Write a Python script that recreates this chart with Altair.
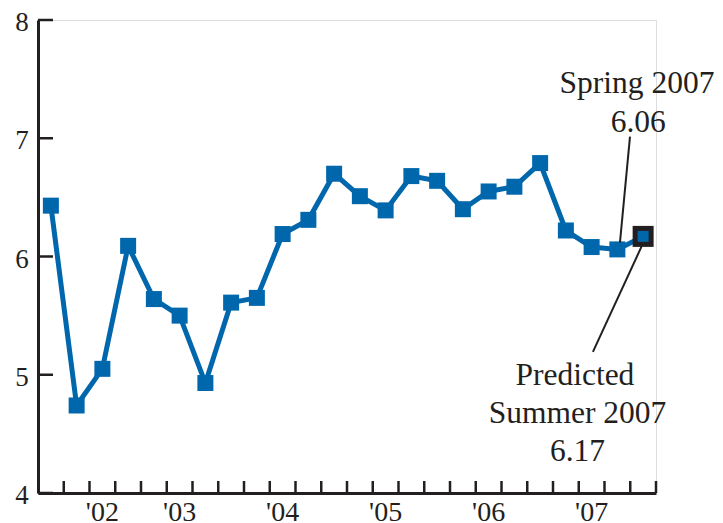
import altair as alt
import pandas as pd

# ---- data ----
quarter_idx = list(range(1, 25))
values = [6.43, 4.74, 5.05, 6.09, 5.64, 5.50, 4.93, 5.61, 5.65, 6.19, 6.31, 6.70,
          6.51, 6.39, 6.68, 6.64, 6.40, 6.55, 6.59, 6.79, 6.22, 6.08, 6.06, 6.17]
predicted_flag = [False] * 23 + [True]

year_labels = ["'02", "'03", "'04", "'05", "'06", "'07"]
year_pos = [3, 6, 10, 14, 18, 22]
y_tick_values = [4, 5, 6, 7, 8]
x_tick_values = [i + 0.5 for i in range(1, 25)]

ann_text = ["Spring 2007", "6.06", "Predicted", "Summer 2007", "6.17"]
ann_x = [23.76, 23.81, 21.35, 21.45, 21.45]
ann_y = [7.384, 7.057, 4.915, 4.594, 4.267]

leader_x = [23.49, 23.94]
leader_y = [7.013, 6.085]
leader_x2 = [23.10, 22.05]
leader_y2 = [6.117, 5.194]

BLUE = "#0067AC"
INK = "#231F20"
FONT = "Liberation Serif"

df = pd.DataFrame({"q": quarter_idx, "v": values, "pred": predicted_flag})
df_ann = pd.DataFrame({"t": ann_text, "x": ann_x, "y": ann_y})
df_lead = pd.DataFrame({"x": leader_x, "y": leader_y, "x2": leader_x2, "y2": leader_y2})
df_years = pd.DataFrame({"t": year_labels, "x": year_pos, "y": [3.765] * len(year_pos)})
df_yt = pd.DataFrame({"v": y_tick_values})
df_xt = pd.DataFrame({"q": x_tick_values})

xs = alt.Scale(domain=[0.5, 24.5], nice=False, zero=False)
ys = alt.Scale(domain=[4, 8], nice=False, zero=False)

X = lambda f: alt.X(f, type="quantitative", scale=xs,
                    axis=alt.Axis(labels=False, ticks=False, grid=False, title=None,
                                  domainColor=INK, domainWidth=3))
Y = lambda f: alt.Y(f, type="quantitative", scale=ys,
                    axis=alt.Axis(labels=False, ticks=False, grid=False, title=None,
                                  domainColor=INK, domainWidth=3))

line = alt.Chart(df).mark_line(color=BLUE, strokeWidth=5).encode(x=X("q"), y=Y("v"))
pts = alt.Chart(df[~df.pred]).mark_square(color=BLUE, size=256, opacity=1).encode(
    x=X("q"), y=Y("v"))
pred_outer = alt.Chart(df[df.pred]).mark_square(color=INK, size=441, opacity=1).encode(
    x=X("q"), y=Y("v"))
pred_inner = alt.Chart(df[df.pred]).mark_square(color=BLUE, size=121, opacity=1).encode(
    x=X("q"), y=Y("v"))

xticks = alt.Chart(df_xt).mark_rule(color=INK, strokeWidth=2.5).encode(
    x=X("q"), y=alt.value(473), y2=alt.value(461))
yticks = alt.Chart(df_yt).mark_rule(color=INK, strokeWidth=2.5).encode(
    y=Y("v"), x=alt.value(0), x2=alt.value(15))

ylabels = alt.Chart(df_yt).mark_text(font=FONT, fontSize=27, color=INK,
                                      align="center", baseline="middle", dy=3).encode(
    y=Y("v"), x=alt.value(-16), text=alt.Text("v:Q"))
xlabels = alt.Chart(df_years).mark_text(font=FONT, fontSize=28, color=INK,
                                         align="center", baseline="alphabetic").encode(
    x=X("x"), y=Y("y"), text="t:N")

leaders = alt.Chart(df_lead).mark_rule(color=INK, strokeWidth=2).encode(
    x=X("x"), y=Y("y"), x2="x2", y2="y2")
ann = alt.Chart(df_ann).mark_text(font=FONT, fontSize=31.5, color=INK,
                                   align="center", baseline="alphabetic").encode(
    x=X("x"), y=Y("y"), text="t:N")

chart = alt.layer(xticks, yticks, line, pts, pred_outer, pred_inner, leaders,
                  ylabels, xlabels, ann).properties(
    width=618, height=473,
    autosize=alt.AutoSizeParams(type="none"),
    padding={"left": 30, "top": 12, "right": 59, "bottom": 30},
).configure_view(stroke=None).configure(background="white")

chart.save("out.html", embed_options={"renderer": "svg", "actions": False})
